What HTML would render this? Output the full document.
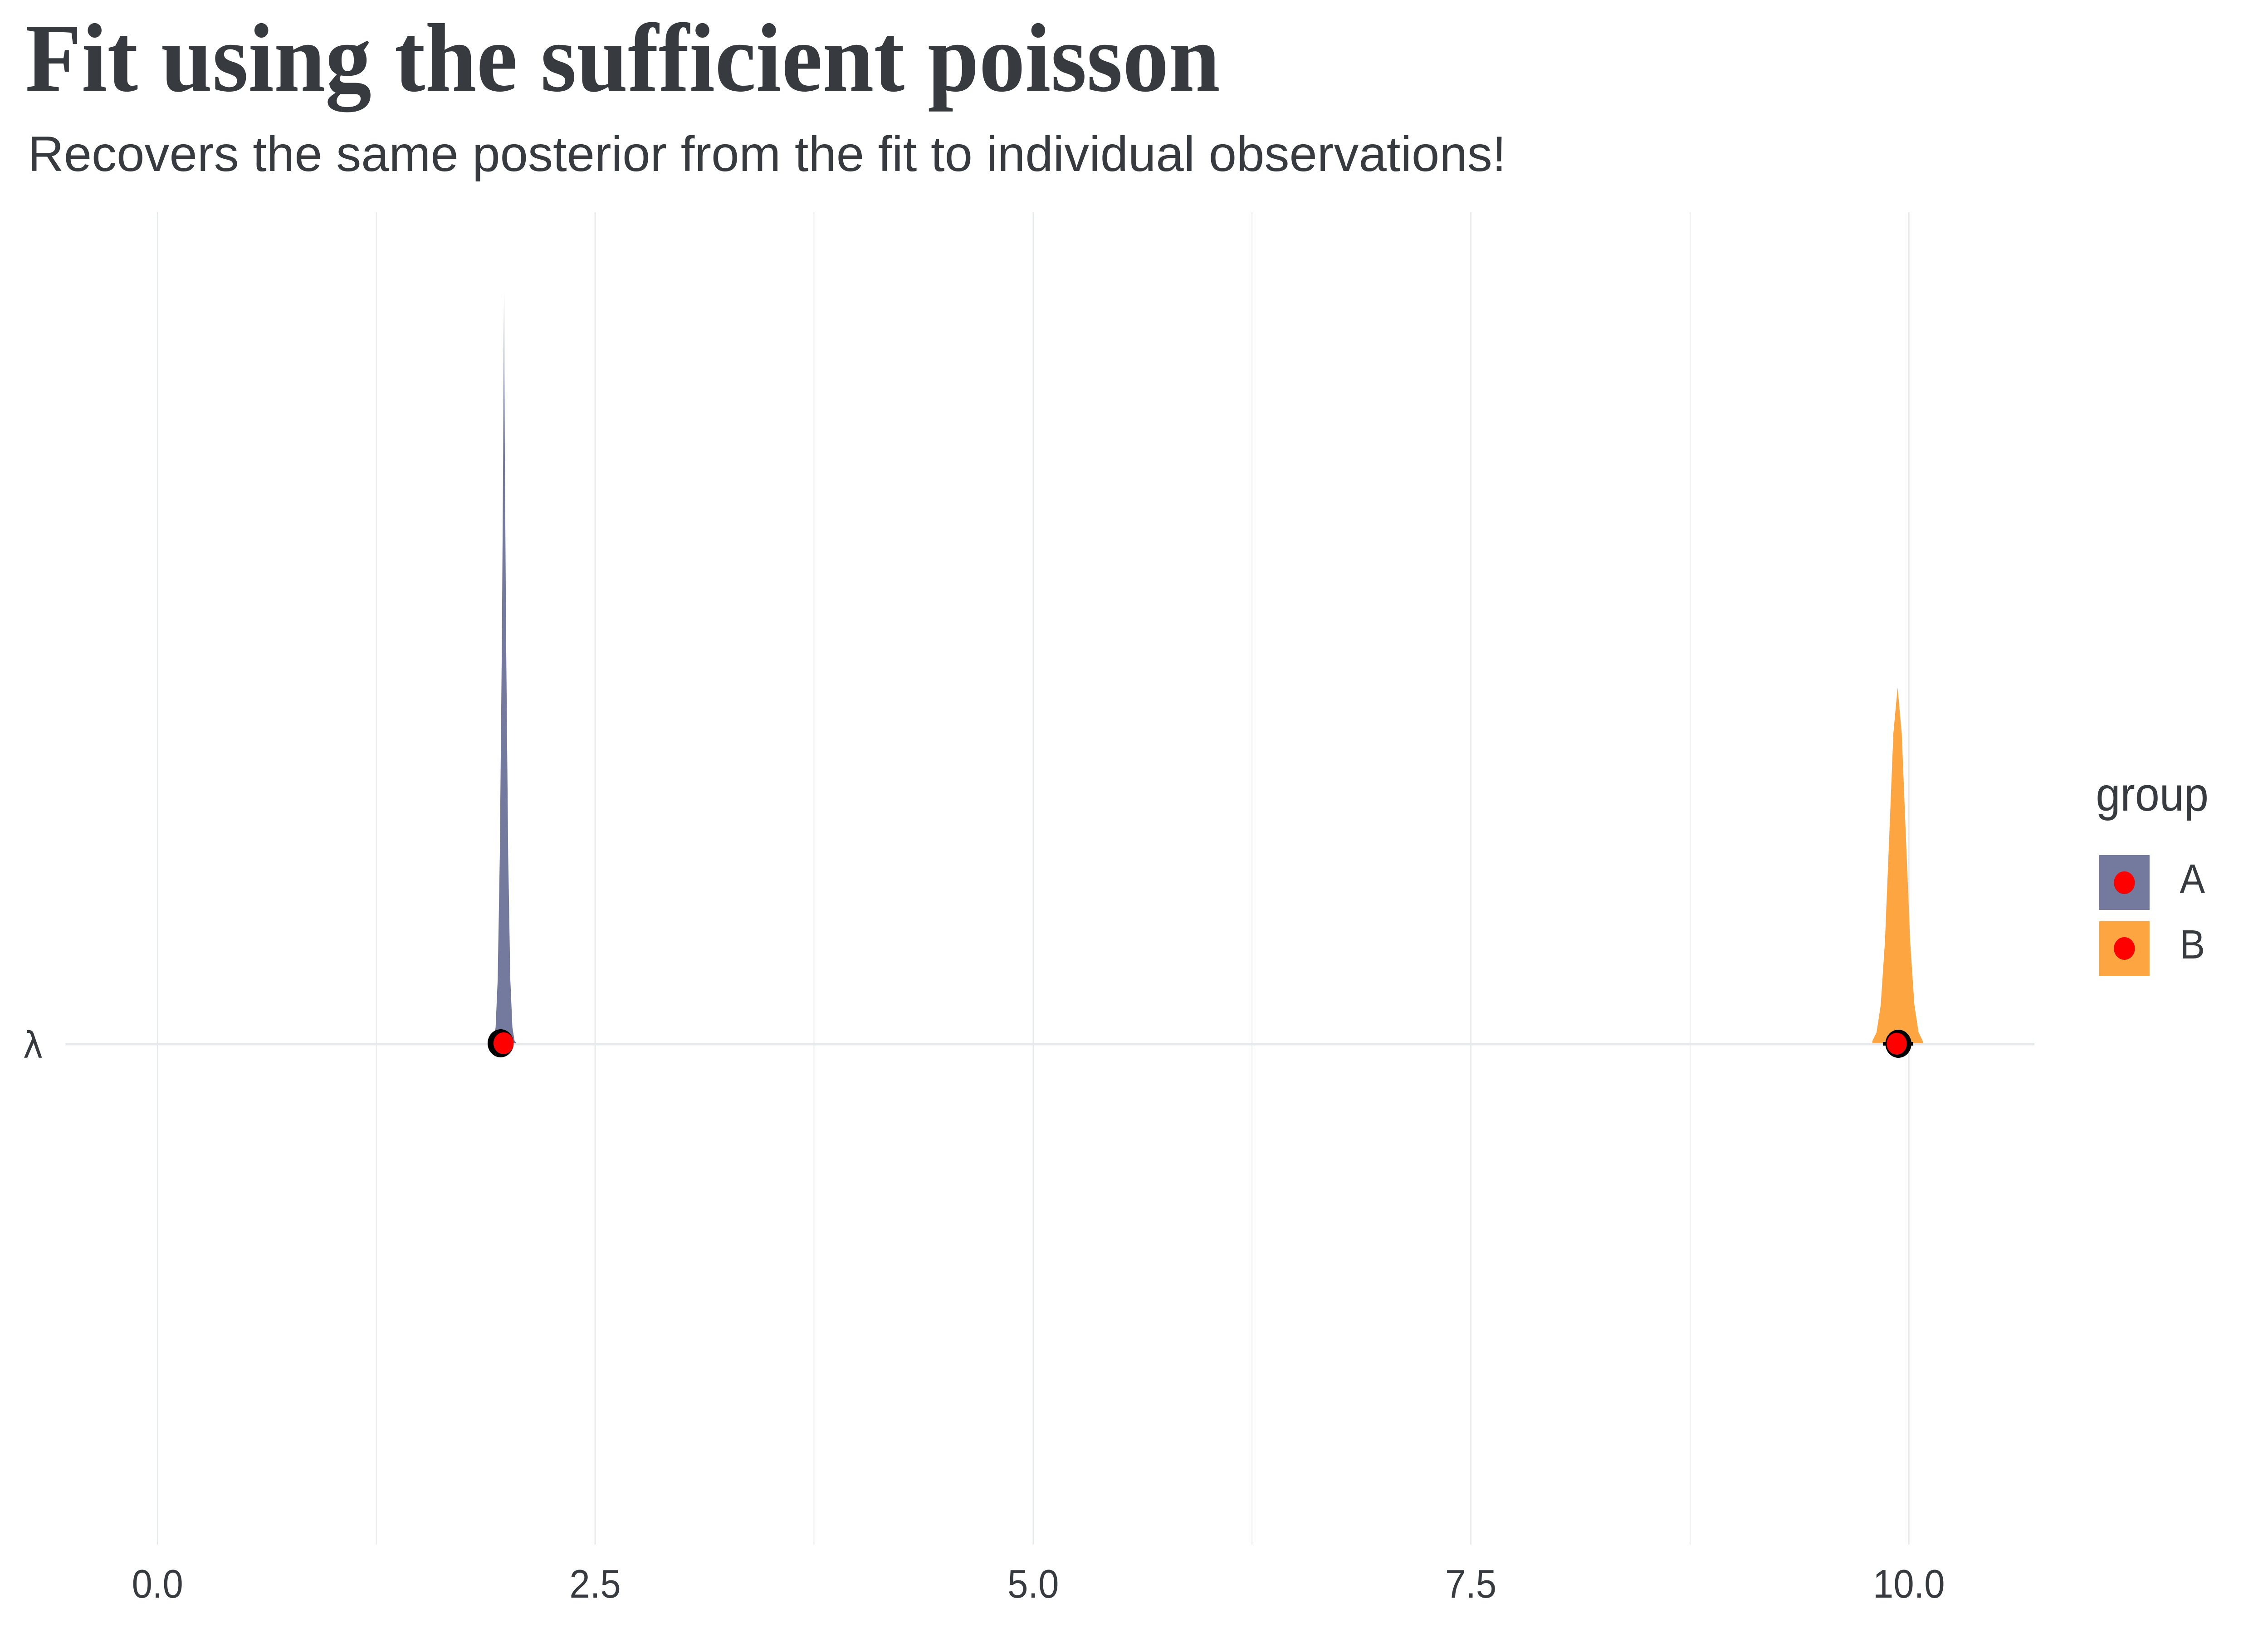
<!DOCTYPE html>
<html><head><meta charset="utf-8"><style>html,body{margin:0;padding:0;background:#fff;width:100%;height:100%;overflow:hidden}svg{display:block;position:absolute;left:0;top:0;width:100vw;height:100vh}</style></head>
<body>
<svg viewBox="0 0 5400 3600" preserveAspectRatio="none" xmlns="http://www.w3.org/2000/svg">
<rect width="5400" height="3600" fill="#fff"/>
<text x="60" y="200" font-family="Liberation Serif, serif" font-weight="bold" font-size="215" fill="#373a3e" textLength="2845" lengthAdjust="spacingAndGlyphs">Fit using the sufficient poisson</text>
<text x="66" y="377" font-family="Liberation Sans, sans-serif" font-size="110" fill="#373a3e" textLength="3520" lengthAdjust="spacingAndGlyphs">Recovers the same posterior from the fit to individual observations!</text>
<g stroke="#e6e9ec" stroke-width="3">
<line x1="375" y1="468" x2="375" y2="3405"/>
<line x1="896" y1="468" x2="896" y2="3405" stroke-width="2"/>
<line x1="1417" y1="468" x2="1417" y2="3405"/>
<line x1="1938" y1="468" x2="1938" y2="3405" stroke-width="2"/>
<line x1="2460" y1="468" x2="2460" y2="3405"/>
<line x1="2981" y1="468" x2="2981" y2="3405" stroke-width="2"/>
<line x1="3502" y1="468" x2="3502" y2="3405"/>
<line x1="4024" y1="468" x2="4024" y2="3405" stroke-width="2"/>
<line x1="4545" y1="468" x2="4545" y2="3405"/>
<line x1="156" y1="2302" x2="4844" y2="2302" stroke-width="5"/>
</g>
<polygon fill="#737a9e" points="1170,2300 1175,2294 1180,2265 1185,2159 1190,1887 1195,1407 1198,1000 1200,644 1202,1000 1205,1407 1210,1887 1215,2159 1220,2265 1225,2294 1230,2300"/>
<polygon fill="#fda540" points="4458,2300 4458,2295 4468,2276 4478,2215 4488,2075 4498,1849 4508,1617 4518,1516 4528,1617 4538,1849 4548,2075 4558,2215 4568,2276 4578,2295 4578,2300"/>
<circle cx="1192" cy="2300" r="31" fill="#000"/>
<circle cx="1199" cy="2300" r="24" fill="#f00"/>
<rect x="4483" y="2297" width="72" height="8" fill="#000"/>
<circle cx="4520" cy="2301" r="31" fill="#000"/>
<circle cx="4516" cy="2301" r="24" fill="#f00"/>
<text x="55" y="2332" font-family="DejaVu Sans, sans-serif" font-size="80" fill="#373a3e">λ</text>
<g font-family="Liberation Sans, sans-serif" font-size="88" fill="#373a3e" text-anchor="middle">
<text x="375" y="3522">0.0</text>
<text x="1417" y="3522">2.5</text>
<text x="2460" y="3522">5.0</text>
<text x="3502" y="3522">7.5</text>
<text x="4545" y="3522">10.0</text>
</g>
<text x="4990" y="1787" font-family="Liberation Sans, sans-serif" font-size="105" fill="#373a3e">group</text>
<rect x="4998" y="1885" width="120" height="121" fill="#737a9e"/>
<rect x="4998" y="2031" width="120" height="121" fill="#fda540"/>
<circle cx="5058" cy="1946" r="25" fill="#f00"/>
<circle cx="5058" cy="2091" r="25" fill="#f00"/>
<text x="5190" y="1968" font-family="Liberation Sans, sans-serif" font-size="90" fill="#373a3e">A</text>
<text x="5190" y="2113" font-family="Liberation Sans, sans-serif" font-size="90" fill="#373a3e">B</text>
</svg>
</body></html>
